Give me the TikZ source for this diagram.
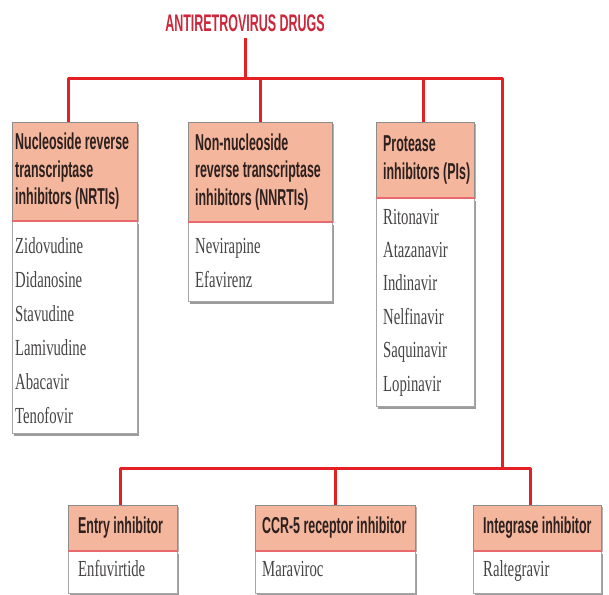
\documentclass[tikz,border=0pt]{standalone}
\usepackage{fontspec}
\setmainfont{Liberation Serif}
\newfontfamily\hdrfont[FakeStretch=0.54]{Liberation Sans}
\newfontfamily\lstfont[FakeStretch=0.64]{Liberation Serif}
\newfontfamily\ttlfont[FakeStretch=0.52]{Liberation Sans}
\usetikzlibrary{shadows}
\definecolor{busred}{RGB}{228,32,36}
\definecolor{ttlred}{RGB}{205,38,58}
\definecolor{hdrfill}{RGB}{244,182,156}
\definecolor{sepred}{RGB}{232,105,110}
\definecolor{hdrtext}{RGB}{45,32,30}
\definecolor{lsttext}{RGB}{70,68,68}
\newcommand\fstrut{\rule{0pt}{17pt}}
\begin{document}
\begin{tikzpicture}[x=1pt,y=-1pt,
  bus/.style={draw=busred,line width=3pt,line join=round},
  hdrbox/.style={draw=black!45,line width=0.8pt,fill=hdrfill,inner sep=0pt,anchor=north west,
    drop shadow={shadow xshift=1.5pt,shadow yshift=-1.5pt,fill=black!50,opacity=0.6}},
  lstbox/.style={draw=black!35,line width=0.8pt,fill=white,inner sep=0pt,anchor=north west,
    drop shadow={shadow xshift=1.5pt,shadow yshift=-2.5pt,fill=black!55,opacity=0.7}},
  hdrtxt/.style={font=\hdrfont\bfseries\fontsize{23}{27.5}\selectfont,text=hdrtext,align=left,anchor=west,inner sep=0pt},
  lsttxt/.style={font=\lstfont\fontsize{23}{34}\selectfont,text=lsttext,align=left,anchor=north west,inner sep=0pt},
  seprule/.style={draw=sepred,line width=1.6pt}
]
\useasboundingbox (0,0) rectangle (609,594);
\fill[white] (0,0) rectangle (609,594);

% title
\node[font=\ttlfont\bfseries\fontsize{24}{26}\selectfont,text=ttlred,inner sep=0pt] (title) at (245,23) {ANTIRETROVIRUS DRUGS};

% boxes (positions)
\node[hdrbox,minimum width=125pt,minimum height=98pt] (h1) at (12,122) {};
\node[hdrbox,minimum width=144pt,minimum height=99pt] (h2) at (188,122) {};
\node[hdrbox,minimum width=98pt,minimum height=75pt] (h3) at (376,122) {};
\node[hdrbox,minimum width=109pt,minimum height=45pt] (eh) at (68,505) {};
\node[hdrbox,minimum width=160pt,minimum height=45pt] (ch) at (255,505) {};
\node[hdrbox,minimum width=128pt,minimum height=45pt] (ih) at (473,505) {};

% connectors
\coordinate (stem) at ([yshift=-6pt]title.south);
\coordinate (rc) at (502,78);
\coordinate (rb) at (502,468);
\coordinate (d1) at ([xshift=-6.5pt]h1.north);
\coordinate (d3) at ([xshift=-2pt]h3.north);
\coordinate (de) at ([xshift=-2.5pt]eh.north);
\coordinate (di) at ([xshift=-7pt]ih.north);
\draw[bus] (d1) -- (d1 |- rc) -- (rc) -- (rb);
\draw[bus] (stem) -- (stem |- rc);
\draw[bus] (h2.north) -- (h2.north |- rc);
\draw[bus] (d3) -- (d3 |- rc);
\draw[bus] (de) -- (de |- rb) -- (di |- rb) -- (di);
\draw[bus] (ch.north) -- (ch.north |- rb);

% list boxes
\node[lstbox,minimum width=125pt,minimum height=212pt] (b1) at (h1.south west) {};
\node[lstbox,minimum width=144pt,minimum height=79pt] (b2) at (h2.south west) {};
\node[lstbox,minimum width=98pt,minimum height=208pt] (b3) at (h3.south west) {};
\node[lstbox,minimum width=109pt,minimum height=42pt] (eb) at (eh.south west) {};
\node[lstbox,minimum width=160pt,minimum height=42pt] (cb) at (ch.south west) {};
\node[lstbox,minimum width=128pt,minimum height=42pt] (ib) at (ih.south west) {};

\foreach \h in {h1,h2,h3,eh,ch,ih}
  \draw[seprule] (\h.south west) -- (\h.south east);

% header texts
\node[hdrtxt] (t1) at ([xshift=3pt]h1.west) {Nucleoside reverse\\transcriptase\\inhibitors (NRTIs)};
\node[hdrtxt] (t2) at ([xshift=7pt]h2.west) {Non-nucleoside\\reverse transcriptase\\inhibitors (NNRTIs)};
\node[hdrtxt] (t3) at ([xshift=7pt]h3.west) {Protease\\inhibitors (PIs)};
\node[hdrtxt] (te) at ([xshift=10pt]eh.west) {Entry inhibitor};
\node[hdrtxt] (tc) at ([xshift=7pt]ch.west) {CCR-5 receptor inhibitor};
\node[hdrtxt] (ti) at ([xshift=10pt]ih.west) {Integrase inhibitor};

% list texts
\node[lsttxt] (l1) at ([xshift=3pt,yshift=-15pt]b1.north west)
  {\fstrut Zidovudine\\Didanosine\\Stavudine\\Lamivudine\\Abacavir\\Tenofovir};
\node[lsttxt] (l2) at ([xshift=7pt,yshift=-14pt]b2.north west)
  {\fstrut Nevirapine\\Efavirenz};
\node[lsttxt,font=\lstfont\fontsize{23}{33.4}\selectfont] (l3) at ([xshift=7pt,yshift=-9pt]b3.north west)
  {\fstrut Ritonavir\\Atazanavir\\Indinavir\\Nelfinavir\\Saquinavir\\Lopinavir};
\node[lsttxt] (le) at ([xshift=10pt,yshift=-8pt]eb.north west) {\fstrut Enfuvirtide};
\node[lsttxt] (lc) at ([xshift=7pt,yshift=-8pt]cb.north west) {\fstrut Maraviroc};
\node[lsttxt] (li) at ([xshift=10pt,yshift=-8pt]ib.north west) {\fstrut Raltegravir};
\end{tikzpicture}
\end{document}
